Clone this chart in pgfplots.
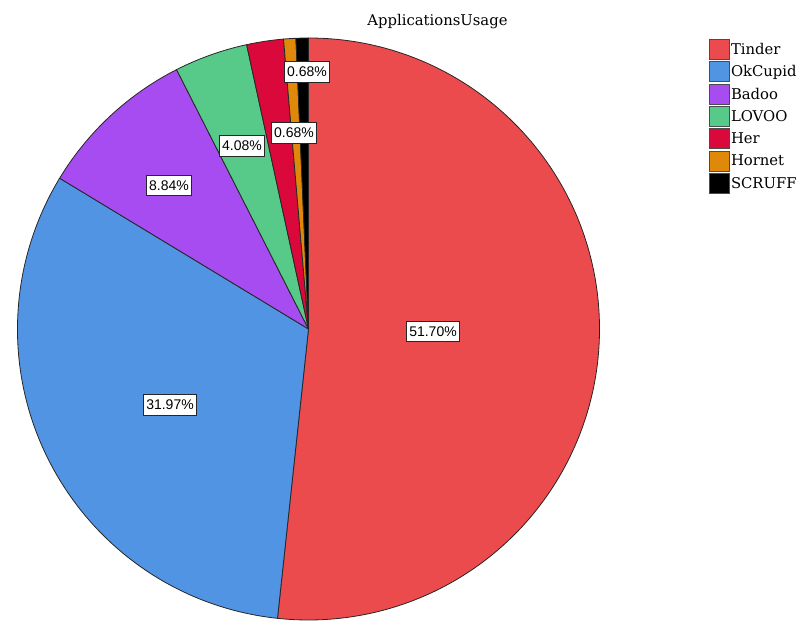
\documentclass[border=0pt]{standalone}
\usepackage{pgfplots}
\pgfplotsset{compat=1.18}
\usepackage{pgfplotstable}
\usepackage{fontspec}
\setmainfont{DejaVu Serif}
\newfontfamily\labelfont{Liberation Sans}

\definecolor{pie0}{RGB}{235,75,76}
\definecolor{pie1}{RGB}{82,148,228}
\definecolor{pie2}{RGB}{166,76,241}
\definecolor{pie3}{RGB}{87,201,137}
\definecolor{pie4}{RGB}{219,8,59}
\definecolor{pie5}{RGB}{224,136,10}
\definecolor{pie6}{RGB}{0,0,0}

% share (%), label position (lx, ly) in axis units
\pgfplotstableread{
name    value lx  ly
Tinder  51.70 433 289.5
OkCupid 31.97 170 216
Badoo   8.84  169 435.5
LOVOO   4.08  242 475
Her     2.04  0   0
Hornet  0.68  294 488
SCRUFF  0.68  307 549
}\piedata

\pgfplotsset{
  sq legend/.style={legend image code/.code={%
    \filldraw[##1, draw=black!70, line width=0.8pt] (0pt,-10pt) rectangle (20pt,10pt);}},
}

\begin{document}
\begin{tikzpicture}
\begin{axis}[
    x=1pt, y=1pt,
    xmin=0, xmax=802, ymin=0, ymax=621,
    scale only axis, hide axis, clip=false,
    legend cell align=left,
    legend style={at={(axis cs:709,582)}, anchor=north west,
        draw=none, fill=none, inner sep=0pt, row sep=1.5pt,
        font=\fontsize{14.8}{16}\selectfont,
        nodes={inner sep=1pt}},
    /pgf/number format/assume math mode=true,
]
\path (axis cs:0,0) rectangle (axis cs:802,621);

% slices, clockwise from 12 o'clock
\pgfplotstablegetrowsof{\piedata}
\pgfmathtruncatemacro\nrows{\pgfplotsretval-1}
\def\cum{0}
\pgfplotsforeachungrouped \k in {0,...,\nrows}{%
  \pgfplotstablegetelem{\k}{value}\of\piedata
  \let\v\pgfplotsretval
  \pgfmathsetmacro\aa{90-3.6*\cum}
  \pgfmathsetmacro\cum{\cum+\v}
  \pgfmathsetmacro\bb{90-3.6*\cum}
  \edef\temp{\noexpand\filldraw[fill=pie\k, draw=black!85, line width=0.8pt, line join=round]
    (axis cs:308.5,292) -- ++(\aa:291pt) arc[start angle=\aa, end angle=\bb, radius=291pt] -- cycle;}
  \temp
}

% percentage labels (Her has none in the original)
\addplot[forget plot, draw=none, mark=none,
    skip coords between index={4}{5},
    point meta=explicit,
    nodes near coords={\pgfmathprintnumber[fixed,fixed zerofill,precision=2]{\pgfplotspointmeta}\%},
    every node near coord/.style={anchor=center, font=\labelfont\fontsize{14}{15}\selectfont,
        fill=white, draw=black!85, line width=0.8pt,
        inner xsep=2.5pt, inner ysep=4.5pt, text height=10.5pt, text depth=1pt},
] table[x=lx, y=ly, meta=value] {\piedata};

\node[font=\fontsize{14.8}{16}\selectfont, anchor=base] at (axis cs:437.5,595.3) {ApplicationsUsage};

\addlegendimage{sq legend, fill=pie0}\addlegendentry{Tinder}
\addlegendimage{sq legend, fill=pie1}\addlegendentry{OkCupid}
\addlegendimage{sq legend, fill=pie2}\addlegendentry{Badoo}
\addlegendimage{sq legend, fill=pie3}\addlegendentry{LOVOO}
\addlegendimage{sq legend, fill=pie4}\addlegendentry{Her}
\addlegendimage{sq legend, fill=pie5}\addlegendentry{Hornet}
\addlegendimage{sq legend, fill=pie6}\addlegendentry{SCRUFF}
\end{axis}
\end{tikzpicture}
\end{document}
